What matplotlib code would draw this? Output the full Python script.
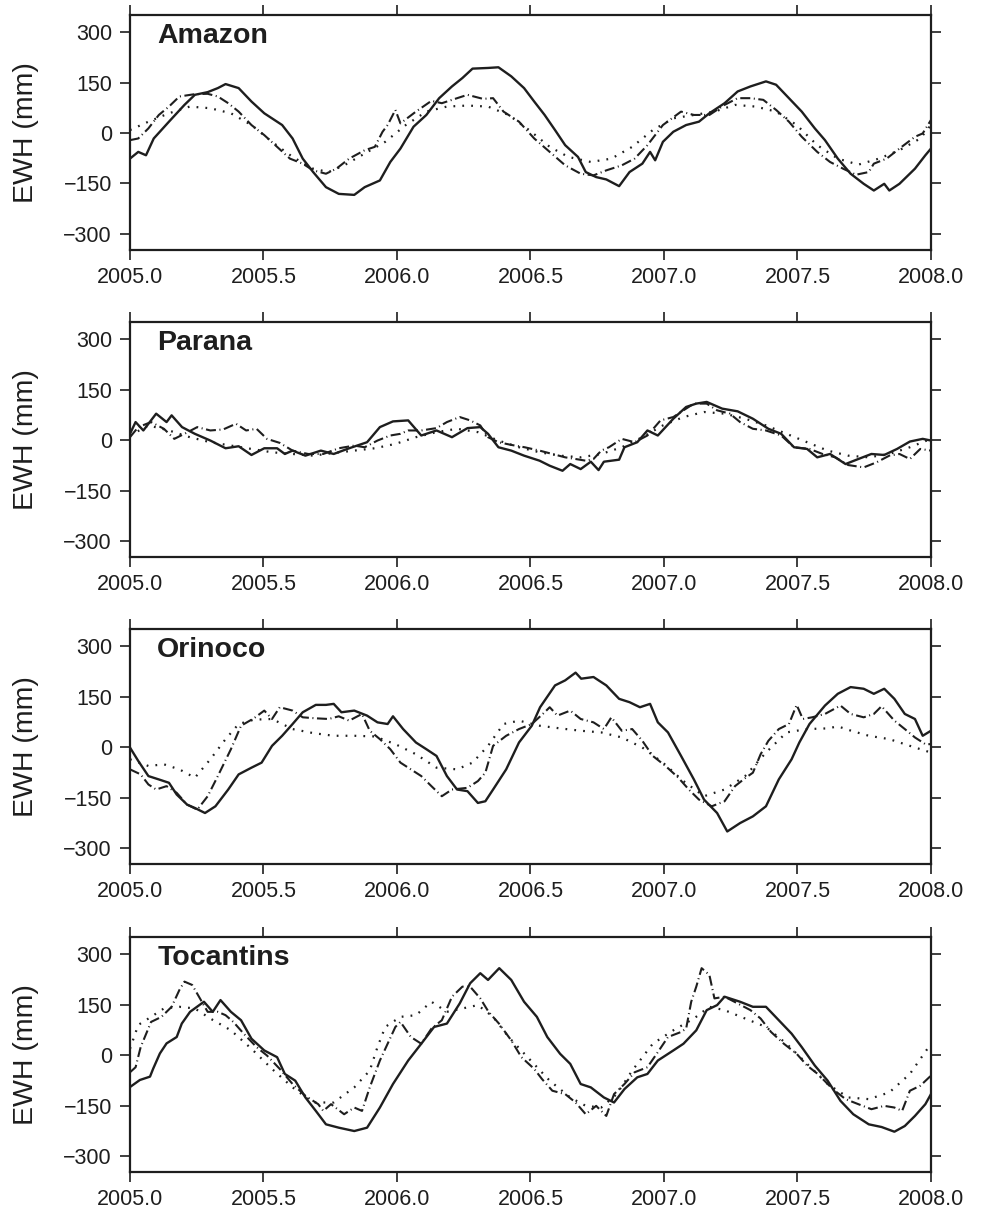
import matplotlib
matplotlib.use('Agg')
import matplotlib.pyplot as plt

plt.rcParams['font.family'] = ['Liberation Sans', 'DejaVu Sans']

INK = '#1e1e1e'

# ---------------- Amazon ----------------
AMZ_SOLID_T = [2005.000, 2005.031, 2005.060, 2005.089, 2005.146, 2005.204, 2005.243, 2005.291, 2005.329,
               2005.358, 2005.407, 2005.455, 2005.503, 2005.570, 2005.609, 2005.647, 2005.686, 2005.734,
               2005.782, 2005.840, 2005.879, 2005.936, 2005.975, 2006.013, 2006.062, 2006.110, 2006.158,
               2006.206, 2006.245, 2006.283, 2006.341, 2006.380, 2006.428, 2006.476, 2006.514, 2006.553,
               2006.592, 2006.630, 2006.678, 2006.707, 2006.746, 2006.784, 2006.832, 2006.871, 2006.919,
               2006.948, 2006.967, 2006.996, 2007.035, 2007.083, 2007.131, 2007.170, 2007.227, 2007.276,
               2007.324, 2007.382, 2007.420, 2007.468, 2007.516, 2007.565, 2007.603, 2007.651, 2007.699,
               2007.748, 2007.786, 2007.825, 2007.844, 2007.882, 2007.940, 2007.979, 2008.000]
AMZ_SOLID = [-76, -56, -66, -16, 34, 84, 114, 122, 134, 146, 134, 94, 59, 24, -16, -76, -116, -161,
             -181, -184, -161, -141, -86, -46, 19, 54, 104, 139, 164, 192, 194, 196, 169, 134, 94, 54,
             9, -36, -71, -116, -131, -138, -158, -116, -91, -56, -81, -26, 4, 24, 34, 59, 89, 124,
             139, 154, 144, 104, 64, 14, -21, -76, -121, -151, -171, -151, -171, -151, -106, -66, -46]

AMZ_DASH_T = [2005.000, 2005.031, 2005.069, 2005.108, 2005.146, 2005.185, 2005.243, 2005.291, 2005.329,
              2005.368, 2005.407, 2005.455, 2005.503, 2005.551, 2005.599, 2005.647, 2005.686, 2005.734,
              2005.773, 2005.821, 2005.879, 2005.917, 2005.946, 2005.965, 2005.994, 2006.013, 2006.071,
              2006.129, 2006.168, 2006.206, 2006.264, 2006.322, 2006.360, 2006.399, 2006.457, 2006.514,
              2006.572, 2006.630, 2006.688, 2006.736, 2006.784, 2006.842, 2006.890, 2006.938, 2006.996,
              2007.064, 2007.112, 2007.170, 2007.227, 2007.276, 2007.324, 2007.372, 2007.420, 2007.468,
              2007.516, 2007.574, 2007.622, 2007.671, 2007.719, 2007.767, 2007.786, 2007.834, 2007.882,
              2007.940, 2007.969, 2008.000]
AMZ_DASH = [-21, -16, 14, 54, 79, 109, 116, 117, 109, 89, 64, 24, -6, -41, -76, -91, -111, -121,
            -106, -76, -51, -41, 4, 24, 69, 29, 64, 96, 89, 99, 114, 102, 104, 64, 34, -16,
            -56, -96, -121, -126, -111, -96, -76, -36, 24, 64, 54, 54, 84, 104, 104, 99, 69, 34,
            -11, -56, -86, -106, -124, -116, -91, -76, -46, -11, -1, 39]

AMZ_DOT_T = [2005.000, 2005.069, 2005.146, 2005.224, 2005.301, 2005.378, 2005.455, 2005.532, 2005.609,
             2005.686, 2005.744, 2005.802, 2005.879, 2005.956, 2006.033, 2006.110, 2006.187, 2006.264,
             2006.341, 2006.418, 2006.495, 2006.572, 2006.642, 2006.726, 2006.803, 2006.881, 2006.958,
             2007.035, 2007.112, 2007.189, 2007.266, 2007.343, 2007.420, 2007.497, 2007.574, 2007.651,
             2007.728, 2007.805, 2007.882, 2007.960, 2008.000]
AMZ_DOT = [9, 34, 59, 79, 74, 59, 24, -26, -71, -106, -116, -96, -61, -26, 24, 64, 79, 82,
           79, 54, 9, -41, -71, -86, -76, -41, 9, 44, 54, 64, 84, 79, 64, 24, -36, -76,
           -94, -76, -51, -16, 24]

# ---------------- Parana ----------------
PAR_SOLID_T = [2005.000, 2005.021, 2005.050, 2005.098, 2005.137, 2005.156, 2005.195, 2005.243, 2005.301,
               2005.358, 2005.407, 2005.455, 2005.503, 2005.551, 2005.580, 2005.609, 2005.657, 2005.715,
               2005.763, 2005.821, 2005.888, 2005.936, 2005.985, 2006.042, 2006.091, 2006.148, 2006.206,
               2006.264, 2006.312, 2006.341, 2006.380, 2006.428, 2006.476, 2006.534, 2006.572, 2006.620,
               2006.649, 2006.688, 2006.726, 2006.755, 2006.775, 2006.832, 2006.852, 2006.900, 2006.938,
               2006.977, 2007.035, 2007.083, 2007.121, 2007.160, 2007.218, 2007.276, 2007.333, 2007.391,
               2007.439, 2007.487, 2007.536, 2007.574, 2007.622, 2007.680, 2007.728, 2007.777, 2007.825,
               2007.873, 2007.921, 2007.969, 2008.000]
PAR_SOLID = [19, 54, 29, 79, 54, 74, 39, 19, -1, -24, -18, -44, -24, -24, -41, -31, -46, -31,
             -41, -24, -6, 39, 56, 59, 14, 29, 9, 36, 39, 19, -21, -31, -46, -61, -76, -91,
             -71, -86, -64, -89, -64, -58, -21, -6, 29, 14, 64, 99, 109, 114, 94, 86, 64, 34,
             19, -21, -26, -51, -41, -71, -56, -41, -44, -26, -4, 4, -1]

PAR_DASH_T = [2005.000, 2005.031, 2005.079, 2005.127, 2005.166, 2005.204, 2005.252, 2005.301, 2005.349,
              2005.397, 2005.435, 2005.474, 2005.513, 2005.561, 2005.609, 2005.667, 2005.724, 2005.782,
              2005.840, 2005.879, 2005.927, 2005.975, 2006.013, 2006.042, 2006.091, 2006.148, 2006.187,
              2006.235, 2006.274, 2006.312, 2006.341, 2006.380, 2006.428, 2006.478, 2006.534, 2006.582,
              2006.630, 2006.669, 2006.707, 2006.736, 2006.765, 2006.794, 2006.842, 2006.890, 2006.938,
              2006.987, 2007.035, 2007.073, 2007.112, 2007.160, 2007.199, 2007.247, 2007.285, 2007.333,
              2007.382, 2007.439, 2007.487, 2007.545, 2007.594, 2007.642, 2007.690, 2007.748, 2007.796,
              2007.844, 2007.882, 2007.921, 2007.960, 2008.000]
PAR_DASH = [9, 39, 54, 34, 4, 19, 39, 29, 32, 49, 29, 34, 4, -8, -31, -41, -41, -24,
            -16, -21, -1, 14, 19, 29, 29, 36, 54, 69, 59, 44, 9, -6, -14, -21, -31, -41,
            -51, -56, -61, -56, -31, -21, 4, -6, 14, 59, 69, 89, 109, 109, 89, 79, 54, 34,
            29, 14, -21, -26, -41, -51, -74, -81, -66, -46, -41, -56, -26, -31]

PAR_DOT_T = [2005.000, 2005.069, 2005.146, 2005.224, 2005.301, 2005.378, 2005.455, 2005.532, 2005.609,
             2005.686, 2005.763, 2005.840, 2005.917, 2005.994, 2006.071, 2006.148, 2006.225, 2006.303,
             2006.380, 2006.457, 2006.534, 2006.611, 2006.688, 2006.765, 2006.842, 2006.919, 2006.996,
             2007.073, 2007.150, 2007.227, 2007.304, 2007.382, 2007.459, 2007.536, 2007.613, 2007.690,
             2007.767, 2007.844, 2007.921, 2008.000]
PAR_DOT = [14, 44, 29, 9, -6, -16, -26, -36, -41, -46, -38, -31, -24, -11, 9, 24, 34, 24,
           -1, -21, -36, -46, -51, -41, -21, 9, 44, 69, 84, 79, 64, 44, 19, -6, -31, -46,
           -51, -41, -21, 4]

# ---------------- Orinoco ----------------
ORI_SOLID_T = [2005.000, 2005.031, 2005.069, 2005.108, 2005.146, 2005.175, 2005.214, 2005.243, 2005.281,
               2005.320, 2005.368, 2005.407, 2005.455, 2005.493, 2005.532, 2005.570, 2005.609, 2005.647,
               2005.696, 2005.734, 2005.763, 2005.792, 2005.840, 2005.888, 2005.927, 2005.965, 2005.985,
               2006.023, 2006.071, 2006.110, 2006.148, 2006.187, 2006.225, 2006.264, 2006.303, 2006.331,
               2006.360, 2006.409, 2006.457, 2006.505, 2006.536, 2006.592, 2006.630, 2006.669, 2006.690,
               2006.736, 2006.784, 2006.832, 2006.871, 2006.910, 2006.948, 2006.977, 2007.015, 2007.064,
               2007.112, 2007.150, 2007.199, 2007.237, 2007.285, 2007.333, 2007.382, 2007.430, 2007.478,
               2007.507, 2007.545, 2007.603, 2007.651, 2007.699, 2007.748, 2007.786, 2007.825, 2007.863,
               2007.902, 2007.940, 2007.969, 2008.000]
ORI_SOLID = [-1, -41, -86, -96, -106, -141, -171, -181, -196, -176, -126, -81, -61, -46, 4, 34, 69, 104,
             126, 126, 129, 104, 109, 94, 74, 69, 92, 54, 14, -6, -26, -86, -126, -131, -166, -161,
             -126, -66, 14, 64, 119, 184, 199, 222, 204, 209, 184, 144, 134, 119, 129, 74, 44, -26,
             -96, -156, -196, -251, -226, -206, -176, -96, -36, 14, 69, 124, 159, 179, 174, 159, 174, 144,
             99, 84, 34, 49]

ORI_DASH_T = [2005.000, 2005.040, 2005.069, 2005.098, 2005.137, 2005.175, 2005.214, 2005.252, 2005.291,
              2005.329, 2005.378, 2005.416, 2005.464, 2005.503, 2005.532, 2005.561, 2005.609, 2005.647,
              2005.696, 2005.744, 2005.782, 2005.821, 2005.869, 2005.898, 2005.936, 2005.975, 2006.013,
              2006.052, 2006.091, 2006.129, 2006.168, 2006.206, 2006.264, 2006.303, 2006.331, 2006.360,
              2006.409, 2006.457, 2006.505, 2006.553, 2006.572, 2006.601, 2006.649, 2006.688, 2006.736,
              2006.775, 2006.803, 2006.842, 2006.881, 2006.919, 2006.958, 2007.006, 2007.054, 2007.093,
              2007.131, 2007.179, 2007.227, 2007.266, 2007.306, 2007.333, 2007.362, 2007.391, 2007.430,
              2007.468, 2007.497, 2007.520, 2007.555, 2007.603, 2007.661, 2007.699, 2007.748, 2007.786,
              2007.815, 2007.863, 2007.902, 2007.940, 2007.979, 2008.000]
ORI_DASH = [-66, -81, -111, -126, -116, -136, -171, -186, -146, -86, -6, 64, 86, 109, 84, 119, 109, 89,
            86, 84, 92, 79, 99, 49, 24, -6, -46, -66, -86, -116, -146, -126, -121, -101, -76, 4,
            34, 54, 69, 104, 119, 94, 109, 84, 74, 54, 89, 49, 54, 19, -26, -56, -91, -126,
            -156, -176, -161, -116, -91, -76, -21, 19, 54, 69, 126, 84, 89, 99, 124, 99, 89, 99,
            122, 79, 54, 29, 9, 9]

ORI_DOT_T = [2005.000, 2005.069, 2005.127, 2005.185, 2005.243, 2005.301, 2005.358, 2005.407, 2005.464,
             2005.532, 2005.609, 2005.686, 2005.763, 2005.840, 2005.917, 2005.994, 2006.071, 2006.148,
             2006.225, 2006.283, 2006.341, 2006.399, 2006.457, 2006.534, 2006.611, 2006.688, 2006.765,
             2006.842, 2006.919, 2006.996, 2007.073, 2007.150, 2007.227, 2007.304, 2007.382, 2007.459,
             2007.536, 2007.613, 2007.651, 2007.701, 2007.767, 2007.844, 2007.921, 2008.000]
ORI_DOT = [-36, -56, -51, -66, -91, -36, 24, 69, 82, 84, 54, 42, 34, 34, 32, 9, -21, -61,
           -66, -46, 4, 69, 79, 64, 56, 49, 44, 29, -1, -46, -101, -146, -126, -86, -16, 44,
           54, 56, 62, 49, 34, 24, 4, -16]

# ---------------- Tocantins ----------------
TOC_SOLID_T = [2005.000, 2005.037, 2005.075, 2005.087, 2005.112, 2005.137, 2005.175, 2005.194, 2005.225,
               2005.277, 2005.310, 2005.339, 2005.378, 2005.416, 2005.455, 2005.503, 2005.551, 2005.580,
               2005.619, 2005.657, 2005.696, 2005.734, 2005.782, 2005.840, 2005.888, 2005.936, 2005.985,
               2006.042, 2006.091, 2006.139, 2006.187, 2006.235, 2006.274, 2006.312, 2006.341, 2006.383,
               2006.428, 2006.476, 2006.524, 2006.563, 2006.611, 2006.649, 2006.688, 2006.726, 2006.775,
               2006.813, 2006.852, 2006.900, 2006.938, 2006.977, 2007.035, 2007.073, 2007.121, 2007.160,
               2007.199, 2007.227, 2007.285, 2007.333, 2007.382, 2007.430, 2007.478, 2007.516, 2007.565,
               2007.613, 2007.661, 2007.709, 2007.767, 2007.815, 2007.863, 2007.902, 2007.940, 2007.979,
               2008.000]
TOC_SOLID = [-95, -74, -64, -40, 5, 35, 54, 94, 129, 159, 129, 164, 129, 104, 49, 14, -6, -56,
             -76, -126, -166, -206, -216, -226, -216, -156, -86, -16, 34, 84, 94, 154, 214, 244, 224, 259,
             224, 159, 114, 54, 4, -26, -86, -96, -126, -141, -101, -66, -56, -16, 14, 34, 74, 134,
             149, 174, 159, 144, 144, 104, 64, 24, -31, -76, -136, -176, -206, -214, -228, -211, -181, -146,
             -116]

TOC_DASH_T = [2005.000, 2005.021, 2005.040, 2005.079, 2005.118, 2005.156, 2005.185, 2005.204, 2005.233,
              2005.262, 2005.291, 2005.329, 2005.358, 2005.387, 2005.426, 2005.474, 2005.513, 2005.561,
              2005.609, 2005.657, 2005.705, 2005.724, 2005.753, 2005.802, 2005.840, 2005.869, 2005.898,
              2005.936, 2005.965, 2005.994, 2006.013, 2006.052, 2006.091, 2006.129, 2006.168, 2006.206,
              2006.245, 2006.274, 2006.312, 2006.343, 2006.382, 2006.428, 2006.466, 2006.514, 2006.543,
              2006.582, 2006.630, 2006.669, 2006.707, 2006.746, 2006.784, 2006.813, 2006.852, 2006.890,
              2006.938, 2006.977, 2007.015, 2007.064, 2007.083, 2007.102, 2007.121, 2007.141, 2007.170,
              2007.189, 2007.227, 2007.276, 2007.324, 2007.362, 2007.401, 2007.449, 2007.497, 2007.536,
              2007.576, 2007.632, 2007.680, 2007.728, 2007.777, 2007.825, 2007.863, 2007.892, 2007.921,
              2007.960, 2008.000]
TOC_DASH = [-51, -36, 24, 99, 114, 144, 194, 219, 209, 169, 129, 129, 119, 99, 64, 24, -1, -41,
            -86, -121, -146, -166, -146, -176, -156, -166, -96, -16, 34, 84, 99, 54, 34, 79, 104, 174,
            204, 204, 169, 129, 94, 44, -6, -41, -71, -106, -116, -141, -176, -151, -181, -116, -86, -51,
            -36, 9, 54, 69, 79, 159, 204, 259, 239, 169, 174, 154, 134, 109, 69, 34, 4, -31,
            -56, -101, -131, -146, -161, -151, -156, -166, -106, -91, -61]

TOC_DOT_T = [2005.000, 2005.031, 2005.069, 2005.127, 2005.185, 2005.243, 2005.301, 2005.378, 2005.455,
             2005.532, 2005.609, 2005.686, 2005.763, 2005.840, 2005.898, 2005.927, 2005.956, 2006.013,
             2006.071, 2006.129, 2006.187, 2006.245, 2006.303, 2006.360, 2006.418, 2006.495, 2006.572,
             2006.649, 2006.707, 2006.765, 2006.823, 2006.881, 2006.958, 2007.035, 2007.112, 2007.170,
             2007.227, 2007.304, 2007.382, 2007.459, 2007.536, 2007.613, 2007.690, 2007.767, 2007.844,
             2007.921, 2008.000]
TOC_DOT = [19, 90, 109, 139, 144, 139, 109, 74, 19, -41, -96, -141, -141, -96, -46, 24, 84, 114,
           119, 159, 129, 139, 149, 114, 54, -11, -76, -126, -151, -156, -116, -46, 34, 74, 109, 144,
           134, 109, 84, 34, -26, -86, -126, -131, -111, -56, 34]

BASINS = ['Amazon', 'Parana', 'Orinoco', 'Tocantins']
SERIES = {
    'Amazon': [(AMZ_SOLID_T, AMZ_SOLID), (AMZ_DASH_T, AMZ_DASH), (AMZ_DOT_T, AMZ_DOT)],
    'Parana': [(PAR_SOLID_T, PAR_SOLID), (PAR_DASH_T, PAR_DASH), (PAR_DOT_T, PAR_DOT)],
    'Orinoco': [(ORI_SOLID_T, ORI_SOLID), (ORI_DASH_T, ORI_DASH), (ORI_DOT_T, ORI_DOT)],
    'Tocantins': [(TOC_SOLID_T, TOC_SOLID), (TOC_DASH_T, TOC_DASH), (TOC_DOT_T, TOC_DOT)],
}
X_TICKS = [2005.0, 2005.5, 2006.0, 2006.5, 2007.0, 2007.5, 2008.0]
Y_TICKS = [-300, -150, 0, 150, 300]

# solid, long dash-dot, dotted
STYLES = [
    dict(linestyle='-', lw=1.7),
    dict(linestyle=(0, (4.8, 1.7, 0.5, 1.7)), lw=1.5),
    dict(linestyle=(0, (0.8, 3.2)), lw=1.6),
]

fig = plt.figure(figsize=(9.81, 12.11), dpi=100)

left, width, height = 0.1325, 0.8165, 0.1941
bottoms = [0.7936, 0.5400, 0.2865, 0.0322]

for name, bottom in zip(BASINS, bottoms):
    ax = fig.add_axes([left, bottom, width, height])
    for (t, v), st in zip(SERIES[name], STYLES):
        ax.plot(t, v, color=INK, solid_joinstyle='round', **st)

    ax.set_xlim(2005.0, 2008.0)
    ax.set_ylim(-348, 352)
    ax.set_xticks(X_TICKS)
    ax.set_xticklabels(['%.1f' % x for x in X_TICKS])
    ax.set_yticks(Y_TICKS)
    ax.tick_params(direction='out', length=7, width=1.2, top=True, right=True,
                   labeltop=False, labelright=False, labelsize=15.5, colors=INK)
    ax.tick_params(axis='x', pad=5)
    ax.tick_params(axis='y', pad=6)
    for sp in ax.spines.values():
        sp.set_linewidth(1.6)
        sp.set_color(INK)

    ax.text(0.034, 0.88, name, transform=ax.transAxes, fontsize=20.5,
            fontweight='bold', color=INK, ha='left', va='baseline')
    ax.text(-0.13, 0.5, 'EWH (mm)', transform=ax.transAxes, rotation=90,
            fontsize=20.5, color=INK, ha='center', va='center')

fig.savefig('out.png', dpi=100)
